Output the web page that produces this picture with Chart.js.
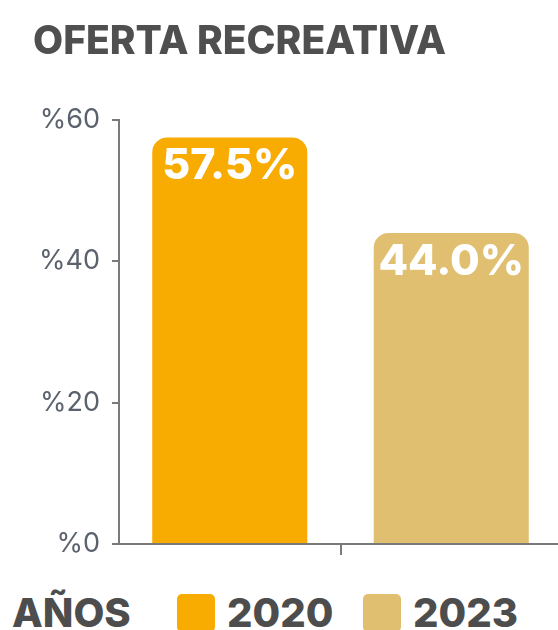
<!DOCTYPE html>
<html>
<head>
<meta charset="utf-8">
<script src="https://cdn.jsdelivr.net/npm/chart.js@4"></script>
<style>
    html, body { margin: 0; padding: 0; background: #fff; overflow: hidden; }
    body { width: 558px; height: 630px; position: relative; font-family: Inter, "Noto Sans", sans-serif; }
    .chart-box { position: absolute; left: 0; top: 0; width: 562px; height: 580px; }
    .legend { position: absolute; left: 0; top: 593px; width: 558px; height: 40px; }
    .legend span { position: absolute; top: 0; font-weight: 800; font-size: 40px; line-height: 40px; color: #4d4d4d; white-space: nowrap; }
    .legend i { position: absolute; top: 1px; width: 38px; height: 38px; border-radius: 5px; }
</style>
</head>
<body>
<div class="chart-box"><canvas id="ofertaChart"></canvas></div>
<div class="legend" id="legend"></div>

<script>
// Data
const chartTitle = 'OFERTA RECREATIVA';
const legendTitle = 'AÑOS';
const years = ['2020', '2023'];
const shares = [57.5, 44.0];
const barColors = ['#F8AB00', '#E0BF70'];
const yTicks = [0, 20, 40, 60];

const axisGray = '#7a7a7a';

// Legend below the chart
const legend = document.getElementById('legend');
const legendTitleEl = document.createElement('span');
legendTitleEl.textContent = legendTitle;
legendTitleEl.style.left = '12px';
legend.appendChild(legendTitleEl);

const swatchLeft = [177, 363];
years.forEach((year, i) => {
    const box = document.createElement('i');
    box.style.left = swatchLeft[i] + 'px';
    box.style.background = barColors[i];
    legend.appendChild(box);

    const label = document.createElement('span');
    label.textContent = year;
    label.style.left = (swatchLeft[i] + 50) + 'px';
    legend.appendChild(label);
});

// Percentage written inside the top of each bar
const barLabels = {
    id: 'barLabels',
    afterDatasetsDraw(chart) {
        const ctx = chart.ctx;
        const meta = chart.getDatasetMeta(0);
        ctx.save();
        ctx.font = '800 43px Inter';
        ctx.fillStyle = '#ffffff';
        ctx.textAlign = 'center';
        ctx.textBaseline = 'alphabetic';
        meta.data.forEach((bar, i) => {
            ctx.fillText(shares[i].toFixed(1) + '%', bar.x, bar.y + 42);
        });
        ctx.restore();
    }
};

const ctx = document.getElementById('ofertaChart').getContext('2d');
const ofertaChart = new Chart(ctx, {
    type: 'bar',
    data: {
        labels: years,
        datasets: [{
            data: shares,
            backgroundColor: barColors,
            borderRadius: 15,
            borderSkipped: 'start',
            barPercentage: 0.7,
            categoryPercentage: 1
        }]
    },
    options: {
        responsive: true,
        maintainAspectRatio: false,
        animation: false,
        layout: {
            padding: { left: 33, right: 0, top: 19, bottom: 25 }
        },
        scales: {
            x: {
                offset: true,
                border: { display: true, color: axisGray, width: 2 },
                grid: {
                    offset: true,
                    drawOnChartArea: false,
                    drawTicks: true,
                    tickLength: 11,
                    lineWidth: 2,
                    color: c => c.index === 1 ? axisGray : 'rgba(0,0,0,0)'
                },
                ticks: { display: false }
            },
            y: {
                min: 0,
                max: 60,
                afterBuildTicks: axis => {
                    axis.ticks = yTicks.map(v => ({ value: v }));
                },
                afterFit: axis => {
                    axis.width = 86;
                },
                border: { display: true, color: axisGray, width: 2 },
                grid: {
                    drawOnChartArea: false,
                    drawTicks: true,
                    tickLength: 7,
                    lineWidth: 2,
                    color: axisGray
                },
                ticks: {
                    padding: 12,
                    color: '#5b626d',
                    font: { family: 'Inter', size: 27, weight: '400' },
                    callback: v => '%' + v
                }
            }
        },
        plugins: {
            legend: { display: false },
            tooltip: { enabled: false },
            title: {
                display: true,
                text: chartTitle,
                align: 'start',
                color: '#4f4f4f',
                font: { family: 'Inter', size: 39, weight: '800' },
                padding: { top: 0, bottom: 54 }
            }
        }
    },
    plugins: [barLabels]
});
</script>
</body>
</html>
